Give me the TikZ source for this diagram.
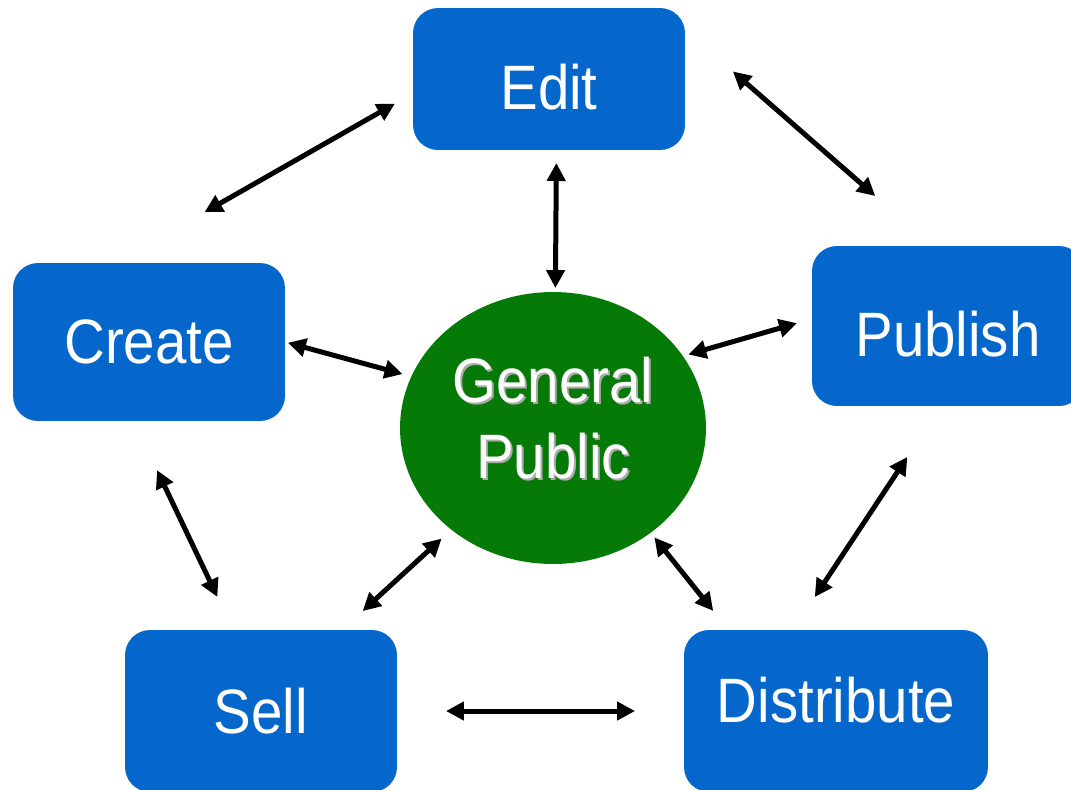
\documentclass[tikz,border=0pt]{standalone}
\usepackage{fontspec}
\setmainfont{Liberation Sans}[FakeStretch=0.9]
\usetikzlibrary{arrows.meta,shapes.geometric}

\definecolor{boxblue}{RGB}{5,102,204}
\definecolor{hubgreen}{RGB}{6,122,6}
\definecolor{shadegray}{RGB}{172,172,172}
\newcommand{\shadetext}[1]{\makebox[0pt][l]{\hspace{0.04cm}\raisebox{-0.04cm}{\textcolor{shadegray}{#1}}}#1}

\begin{document}
\begin{tikzpicture}[x=0.02cm, y=-0.02cm,
    box/.style={fill=boxblue, rounded corners=0.5cm, minimum width=5.44cm,
        inner sep=0pt, outer sep=0pt, text=white,
        font=\fontsize{35.7pt}{43pt}\selectfont},
    hub/.style={ellipse, fill=hubgreen, minimum width=6.12cm, minimum height=5.44cm,
        inner sep=0pt, outer sep=0pt, text=white, align=center,
        font=\fontsize{35.7pt}{43pt}\selectfont},
    link/.style={line width=0.1cm,
        {Triangle[length=0.36cm,width=0.36cm]}-{Triangle[length=0.36cm,width=0.36cm]}}]
    \useasboundingbox (0,0) rectangle (1071,789);

    % the five steps round the hub
    \node[box, minimum height=2.84cm, text height=1.24cm] (edit) at (549,79) {Edit};
    \node[box, minimum height=3.16cm] (create) at (149,342) {Create};
    \node[box, minimum height=3.2cm, text height=1.22cm] (publish) at (948,326) {Publish};
    \node[box, minimum height=3.24cm] (sell) at (261,711) {Sell};
    \node[box, minimum width=6.08cm, minimum height=3.24cm, text depth=0.46cm] (distribute) at (836,711) {Distribute};
    \node[hub, text depth=0.42cm] (public) at (553,428) {\shadetext{General}\\\shadetext{Public}};

    % outer ring
    \draw[link, shorten <=0.415cm, shorten >=2.05cm] (edit.186) -- (create.113);
    \draw[link, shorten <=1.274cm, shorten >=1.52cm] (edit.20) -- (publish.101);
    \draw[link, shorten <=1.088cm, shorten >=0.732cm] (create.259) -- (sell.109);
    \draw[link, shorten <=1.22cm, shorten >=0.79cm] (publish.265) -- (distribute.118);
    \draw[link, shorten <=0.98cm, shorten >=0.98cm] (sell.east) -- (distribute.west);

    % spokes to the hub
    \draw[link, shorten <=0.26cm, shorten >=0.08cm] (edit.276) -- (public.89);
    \draw[link, shorten <=0.06cm, shorten >=0.184cm] (create.east) -- (public.160);
    \draw[link, shorten <=0.312cm, shorten >=0.114cm] (publish.177) -- (public.29);
    \draw[link, shorten <=0.264cm, shorten >=0.56cm] (public.225) -- (sell.45);
    \draw[link, shorten <=0.12cm, shorten >=0.49cm] (public.313) -- (distribute.143);
\end{tikzpicture}
\end{document}
